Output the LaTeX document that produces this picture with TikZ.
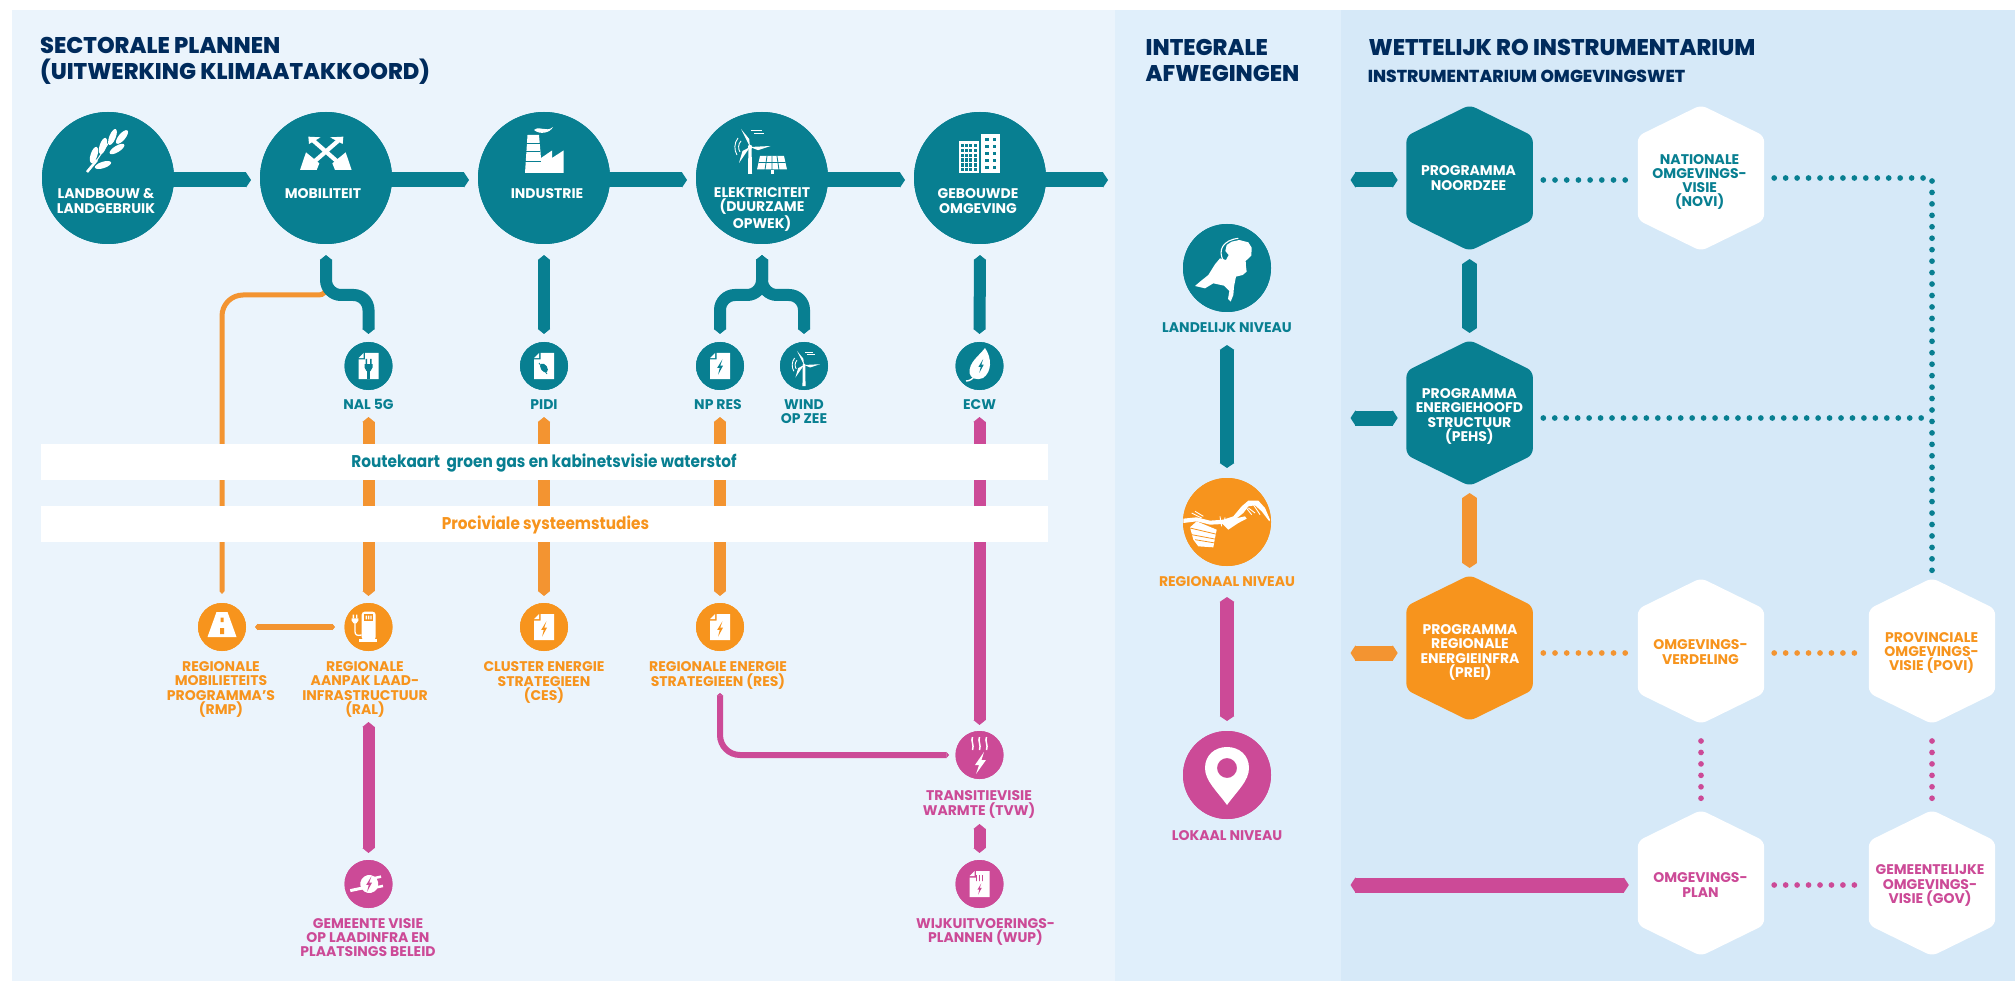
\documentclass[tikz,border=0pt]{standalone}
\usepackage{fontspec}
\setmainfont{Poppins}
\newfontfamily\banfont{Poppins}[FakeStretch=0.9]
\newfontfamily\ttlfont{Poppins ExtraBold}[FakeStretch=0.99]
\usetikzlibrary{arrows.meta,calc}
\definecolor{cteal}{HTML}{087F91}
\definecolor{corange}{HTML}{F7941D}
\definecolor{corbar}{HTML}{F39431}
\definecolor{cmag}{HTML}{CC4A97}
\definecolor{cnavy}{HTML}{002B5C}
\definecolor{pone}{HTML}{EBF4FC}
\definecolor{ptwo}{HTML}{E0EFFB}
\definecolor{pthree}{HTML}{D6E9F8}
\newcommand\T{\rule{0pt}{12pt}}
\newcommand\B{\rule[-3pt]{0pt}{3pt}}
\tikzset{
 bar/.style n args={2}{draw=#1,line width=#2,line cap=butt,arrows={{Triangle[length=5pt,width=#2]}-{Triangle[length=5pt,width=#2]}}},
 rbar/.style n args={2}{draw=#1,line width=#2,line cap=butt,arrows={-{Triangle[length=5pt,width=#2]}}},
 thinbar/.style n args={2}{draw=#1,line width=#2,line cap=butt,arrows={{Triangle[length=2.5pt,width=#2]}-{Triangle[length=2.5pt,width=#2]}}},
 dotl/.style={draw=#1,line width=5.7pt,line cap=round,dash pattern=on 0pt off 11.7pt},
 dotv/.style={draw=#1,line width=5.7pt,line cap=round,dash pattern=on 0pt off 11.45pt},
 disc/.style 2 args={circle,fill=#1,minimum size=#2,inner sep=0pt,outer sep=0pt},
 hexbox/.style={rectangle,minimum width=126.4pt,minimum height=146pt,inner sep=0pt,outer sep=0pt},
 lbl/.style={align=center,inner sep=0pt,text=#1,font=\fontsize{14}{14.2}\selectfont\bfseries},
 ttl/.style={align=left,anchor=west,inner sep=0pt,text=cnavy,font=\fontsize{22.7}{26}\selectfont\ttlfont},
 ban/.style={fill=white,minimum width=1007pt,minimum height=36pt,inner sep=0pt,outer sep=0pt},
 bant/.style={inner sep=0pt,text=#1,font=\fontsize{17}{17}\selectfont\banfont\bfseries},
}
\newcommand\hexa[4]{%
 \fill[#4,rounded corners=6pt,shift={(#2,#3)}] (0,-73)--(63.2,-42)--(63.2,42)--(0,73)--(-63.2,42)--(-63.2,-42)--cycle;
 \node[hexbox] (#1) at (#2,#3) {};}
\newcommand\boltic[4]{\fill[#4,shift={(#1,#2)},scale=#3] (2.5,-8)--(-3,1)--(-.3,1)--(-2,8)--(3.2,-1.5)--(.3,-1.5)--cycle;}
\newcommand\docic[2]{%
 \fill[white,shift={(#1,#2)}] (-3.5,-13)--(10,-13)--(10,13)--(-10,13)--(-10,-6.5)--(-3.5,-6.5)--cycle;
 \fill[white,shift={(#1,#2)}] (-10,-7.8)--(-4.8,-7.8)--(-4.8,-13)--cycle;}
\newcommand\lfic[5]{\fill[white,rotate around={#3:(#1,#2)}] (#1,#2) ellipse (#4pt and #5pt);}
\newcommand\turb[3]{%
 \begin{scope}[shift={(#1,#2)},scale=#3]
 \fill[white] (-1.6,1)--(1.6,1)--(2,27)--(-2,27)--cycle;
 \fill[white] (0,0)--(-9,-18)--(-.8,-8)--cycle;
 \fill[white] (0,0)--(20.6,-1)--(8,3.2)--cycle;
 \fill[white] (0,0)--(-11,16)--(-7.5,4)--cycle;
 \fill[white] (0,0) circle (2.2pt);
 \draw[white,line width=.9pt] (-12,-9) .. controls (-16,-4) and (-16,3) .. (-13,8);
 \draw[white,line width=.9pt] (-9,-6) .. controls (-12,-3) and (-12,2) .. (-10,5);
 \draw[white,line width=1pt] (1,-16)--(12,-16) (4,-13)--(14,-13);
 \end{scope}}
\begin{document}
\begin{tikzpicture}[x=1pt,y=-1pt]
\useasboundingbox (0,0) rectangle (2015,981);
\fill[white] (0,0) rectangle (2015,981);
\fill[pone] (12,10) rectangle (1115,981);
\fill[ptwo] (1115,10) rectangle (1341,981);
\fill[pthree] (1341,10) rectangle (2015,981);

% titles
\node[ttl] (t1) at (40,60.5) {SECTORALE PLANNEN\\(UITWERKING KLIMAATAKKOORD)};
\node[ttl] (t2) at (1145.5,60.5) {INTEGRALE\\AFWEGINGEN};
\node[ttl] (t3) at (1368.4,47) {WETTELIJK RO INSTRUMENTARIUM};
\node[ttl,font=\fontsize{17.3}{18}\selectfont\ttlfont] (t4) at (1367.6,76) {INSTRUMENTARIUM OMGEVINGSWET};

% nodes first, so connectors can refer to them
\node[disc={cteal}{132pt}] (lb) at (108,178) {};
\node[disc={cteal}{132pt}] (mob) at (326,178) {};
\node[disc={cteal}{132pt}] (ind) at (544,178) {};
\node[disc={cteal}{132pt}] (ele) at (762,178) {};
\node[disc={cteal}{132pt}] (geb) at (980,178) {};
\node[disc={cteal}{48pt}] (nal) at (368.5,366) {};
\node[disc={cteal}{48pt}] (pidi) at (544,366) {};
\node[disc={cteal}{48pt}] (npres) at (720,366) {};
\node[disc={cteal}{48pt}] (wind) at (804,366) {};
\node[disc={cteal}{48pt}] (ecw) at (979.5,366) {};
\node[disc={corange}{48pt}] (rmp) at (222,627) {};
\node[disc={corange}{48pt}] (ral) at (368.5,627) {};
\node[disc={corange}{48pt}] (ces) at (544,627) {};
\node[disc={corange}{48pt}] (res) at (720,627) {};
\node[disc={cmag}{48pt}] (tvw) at (979.5,755) {};
\node[disc={cmag}{48pt}] (wup) at (979.5,884) {};
\node[disc={cmag}{48pt}] (gem) at (368.5,884) {};
\node[disc={cteal}{88pt}] (lan) at (1227,268) {};
\node[disc={corange}{88pt}] (reg) at (1227,522) {};
\node[disc={cmag}{88pt}] (lok) at (1227,775) {};

% connectors top row
\draw[rbar={cteal}{15pt},shorten <=-2pt,shorten >=9pt] ([yshift=-2pt]lb.east) -- ([yshift=-2pt]mob.west);
\draw[rbar={cteal}{15pt},shorten <=-2pt,shorten >=9pt] ([yshift=-2pt]mob.east) -- ([yshift=-2pt]ind.west);
\draw[rbar={cteal}{15pt},shorten <=-2pt,shorten >=9pt] ([yshift=-2pt]ind.east) -- ([yshift=-2pt]ele.west);
\draw[rbar={cteal}{15pt},shorten <=-2pt,shorten >=9pt] ([yshift=-2pt]ele.east) -- ([yshift=-2pt]geb.west);
\coordinate (gebend) at (1108,180);
\draw[rbar={cteal}{15pt},shorten <=-2pt] ([yshift=-2pt]geb.east) -- (gebend);

% connectors sectors
\draw[draw=corbar,line width=5pt,line cap=butt,arrows={-{Triangle[length=3pt,width=5pt]}},rounded corners=21pt] ([yshift=-42pt]mob.south) [rounded corners=7pt] -- ++(0,9) [rounded corners=21pt] -| ([yshift=9pt]rmp.north);
\draw[bar={cteal}{12pt},rounded corners=15pt] ([yshift=-11pt]mob.south) -- ++(0,40) -| ([yshift=8pt]nal.north);
\draw[bar={cteal}{12pt}] ([yshift=-11pt]ind.south) -- ([yshift=8pt]pidi.north);
\draw[bar={cteal}{12pt},rounded corners=15pt] ([yshift=-11pt]ele.south) -- ++(0,40) -| ([yshift=8pt]npres.north);
\draw[bar={cteal}{12pt},rounded corners=15pt] ([yshift=-11pt]ele.south) -- ++(0,40) -| ([yshift=8pt]wind.north);
\draw[bar={cteal}{12pt}] ([yshift=-11pt]geb.south) -- ([yshift=8pt]ecw.north);
\draw[bar={corbar}{12pt},shorten <=27pt,shorten >=7pt] (nal.south) -- (ral.north);
\draw[bar={corbar}{12pt},shorten <=27pt,shorten >=7pt] (pidi.south) -- (ces.north);
\draw[bar={corbar}{12pt},shorten <=27pt,shorten >=7pt] (npres.south) -- (res.north);
\draw[bar={cmag}{12pt},shorten <=27pt,shorten >=6pt] (ecw.south) -- (tvw.north);
\draw[thinbar={corbar}{6pt},shorten <=9pt,shorten >=9.5pt] (rmp.east) -- (ral.west);
\draw[bar={cmag}{12pt},shorten <=71pt,shorten >=7pt] (ral.south) -- (gem.north);
\draw[bar={cmag}{12pt},shorten <=45pt,shorten >=7pt] (tvw.south) -- (wup.north);
\draw[thinbar={cmag}{6pt},rounded corners=20pt,shorten >=6.5pt] ([yshift=-42pt]res.south) |- (tvw.west);

% connectors levels
\draw[bar={cteal}{14.5pt},shorten <=33pt,shorten >=10pt] (lan.south) -- (reg.north);
\draw[bar={cmag}{14.5pt},shorten <=31pt,shorten >=10pt] (reg.south) -- (lok.north);

% banners
\node[ban] (b1) at (544.5,462) {};
\node[ban] (b2) at (544.5,524) {};
\node[bant=cteal] (b1t) at (544,463) {Routekaart\ \ groen gas en kabinetsvisie waterstof};
\node[bant=corange] (b2t) at (545.5,524.5) {Prociviale systeemstudies};

% circles on top
\foreach \n/\c/\s in {lb/cteal/132,mob/cteal/132,ind/cteal/132,ele/cteal/132,geb/cteal/132,nal/cteal/48,pidi/cteal/48,npres/cteal/48,wind/cteal/48,ecw/cteal/48,rmp/corange/48,ral/corange/48,ces/corange/48,res/corange/48,tvw/cmag/48,wup/cmag/48,gem/cmag/48,lan/cteal/88,reg/corange/88,lok/cmag/88}
 \fill[\c] (\n.center) circle ({\s/2*1pt});

% hexagons
\hexa{noord}{1469.6}{178}{cteal}
\hexa{novi}{1701}{178}{white}
\hexa{pehs}{1469.6}{413}{cteal}
\hexa{prei}{1469.6}{648}{corange}
\hexa{verd}{1701}{651}{white}
\hexa{povi}{1932}{651}{white}
\hexa{plan}{1701}{883}{white}
\hexa{gov}{1932}{883}{white}

% hexagon connectors
\coordinate (s1) at (1350.5,180);
\coordinate (s2) at (1350.5,418);
\coordinate (s3) at (1350.5,653);
\coordinate (s4) at (1350.5,885);
\draw[bar={cteal}{15pt},shorten >=8.7pt] (s1) -- ([yshift=-2pt]noord.west);
\draw[bar={cteal}{15pt},shorten >=8.7pt] (s2) -- ([yshift=-5pt]pehs.west);
\draw[bar={corbar}{15pt},shorten >=8.7pt] (s3) -- ([yshift=-5pt]prei.west);
\draw[bar={cmag}{15pt},shorten >=9pt] (s4) -- ([yshift=-2pt]plan.west);
\draw[bar={cteal}{14.5pt},shorten <=8pt,shorten >=7pt] (noord.south) -- (pehs.north);
\draw[bar={corbar}{14.5pt},shorten <=7pt,shorten >=7pt] (pehs.south) -- (prei.north);
% dotted
\coordinate (cn) at (povi.north |- novi.east);
\coordinate (pj) at (1923.5,418);
\draw[dotl=cteal,shorten <=10.5pt,shorten >=12.5pt] ([yshift=-2pt]noord.east) -- ([yshift=-2pt]novi.west);
\draw[dotv=cteal,shorten <=10pt,shorten >=7.5pt] (novi.east) -- (cn);
\draw[dotv=cteal,shorten <=3pt,shorten >=6.5pt] (cn) -- (povi.north);
\draw[dotv=cteal,shorten <=10.5pt] ([yshift=-5pt]pehs.east) -- (pj);
\draw[dotl=corbar,shorten <=10.5pt,shorten >=12.5pt] ([yshift=-5pt]prei.east) -- ([yshift=-2pt]verd.west);
\draw[dotv=corbar,shorten <=10pt,shorten >=14pt] ([yshift=-2pt]verd.east) -- ([yshift=-2pt]povi.west);
\draw[dotv=cmag,shorten <=17pt,shorten >=11.5pt] (verd.south) -- (plan.north);
\draw[dotv=cmag,shorten <=17pt,shorten >=11.5pt] (povi.south) -- (gov.north);
\draw[dotv=cmag,shorten <=10pt,shorten >=12.5pt] ([yshift=-2pt]plan.east) -- ([yshift=-2pt]gov.west);

% labels in circles
\node[lbl=white] (lblb) at (106,201.5) {\T LANDBOUW \&\\LANDGEBRUIK\B};
\node[lbl=white] (lbmob) at (323,194.5) {\T MOBILITEIT\B};
\node[lbl=white] (lbind) at (547,194.5) {\T INDUSTRIE\B};
\node[lbl=white] (lbele) at (762,208.5) {\T ELEKTRICITEIT\\(DUURZAME\\OPWEK)\B};
\node[lbl=white] (lbgeb) at (978,201.5) {\T GEBOUWDE\\OMGEVING\B};
% labels small
\node[lbl=cteal] (lnal) at (368.5,404.5) {\T NAL 5G\B};
\node[lbl=cteal] (lpidi) at (544,404.5) {\T PIDI\B};
\node[lbl=cteal] (lnp) at (718,404.5) {\T NP RES\B};
\node[lbl=cteal] (lwind) at (804,412) {\T WIND\\OP ZEE\B};
\node[lbl=cteal] (lecw) at (979.5,404.5) {\T ECW\B};
\node[lbl=corange] (lrmp) at (221,688.5) {\T REGIONALE\\MOBILIETEITS\\PROGRAMMA'S\\(RMP)\B};
\node[lbl=corange] (lral) at (365,688.5) {\T REGIONALE\\AANPAK LAAD-\\INFRASTRUCTUUR\\(RAL)\B};
\node[lbl=corange] (lces) at (544,681.5) {\T CLUSTER ENERGIE\\STRATEGIEEN\\(CES)\B};
\node[lbl=corange] (lres) at (718,674.5) {\T REGIONALE ENERGIE\\STRATEGIEEN (RES)\B};
\node[lbl=cmag] (ltvw) at (979,803.5) {\T TRANSITIEVISIE\\WARMTE (TVW)\B};
\node[lbl=cmag] (lwup) at (985.5,931) {\T WIJKUITVOERINGS-\\PLANNEN (WUP)\B};
\node[lbl=cmag] (lgem) at (368,938) {\T GEMEENTE VISIE\\OP LAADINFRA EN\\PLAATSINGS BELEID\B};
\node[lbl=cteal] (llan) at (1227,328.5) {\T LANDELIJK NIVEAU\B};
\node[lbl=corange] (lreg) at (1227,581.5) {\T REGIONAAL NIVEAU\B};
\node[lbl=cmag] (llok) at (1227,835.5) {\T LOKAAL NIVEAU\B};
% labels hex
\node[lbl=white] (lnoord) at (1468.5,178.5) {\T PROGRAMMA\\NOORDZEE\B};
\node[lbl=white] (lpehs) at (1469.4,415.5) {\T PROGRAMMA\\ENERGIEHOOFD\\STRUCTUUR\\(PEHS)\B};
\node[lbl=white] (lprei) at (1470,651.5) {\T PROGRAMMA\\REGIONALE\\ENERGIEINFRA\\(PREI)\B};
\node[lbl=cteal] (lnovi) at (1699.6,181) {\T NATIONALE\\OMGEVINGS-\\VISIE\\(NOVI)\B};
\node[lbl=corange] (lverd) at (1700.5,652.5) {\T OMGEVINGS-\\VERDELING\B};
\node[lbl=corange] (lpovi) at (1931.6,652) {\T PROVINCIALE\\OMGEVINGS-\\VISIE (POVI)\B};
\node[lbl=cmag] (lplan) at (1700.5,885.5) {\T OMGEVINGS-\\PLAN\B};
\node[lbl=cmag] (lgov) at (1930,884.5) {\T GEMEENTELIJKE\\OMGEVINGS-\\VISIE (GOV)\B};

% ---- icons ----
% wheat
\draw[white,line width=2.6pt] (87,172)--(97,160);
\draw[white,line width=1pt] (97,160)--(116,132);
\lfic{94}{155}{-18}{3.4}{8.5}
\lfic{103}{146}{-18}{3.4}{8.5}
\lfic{112.5}{137}{-22}{3.2}{8.5}
\lfic{122}{137}{-40}{3.4}{8.5}
\lfic{117}{149}{-58}{3.2}{8.5}
\lfic{103}{165}{-72}{3.2}{8.5}
% mobility arrows
\begin{scope}[shift={(280,120)},scale=.3333]
 \draw[white,line width=4.2pt] (100,62)--(178,130) (175,62)--(97,130);
 \fill[white] (85,50)--(122,52)--(87,72)--cycle;
 \fill[white] (190,50)--(150,52)--(188,72)--cycle;
 \fill[white] (60,150)--(78,97)--(118,130)--(110,150)--cycle;
 \fill[white] (215,150)--(197,97)--(157,130)--(165,150)--cycle;
\end{scope}
% factory
\fill[white] (525,173)--(527.5,135)--(539,135)--(541,158)--(552,150.5)--(552,158)--(563.5,150.5)--(563.5,173)--cycle;
\draw[cteal,line width=.9pt] (526,143)--(540,143) (526,151)--(540,151) (525,161)--(541,161);
\fill[white] (534,130) .. controls (540,125) and (546,133) .. (553,127) .. controls (550,133) and (540,135) .. (534,130) -- cycle;
% turbine + solar
\turb{750}{147}{1}
\begin{scope}
 \fill[white] (760,156)--(784,156)--(787,169.5)--(757,169.5)--cycle;
 \draw[cteal,line width=.8pt] (758.5,162.5)--(785.5,162.5) (767,156)--(765,170) (772,156)--(772,170) (777,156)--(779,170);
 \fill[white] (770.5,170.5) rectangle (773.5,174.5);
\end{scope}
% buildings
\fill[white] (958.5,141.5) rectangle (978.5,173.5);
\fill[white] (980.5,134) rectangle (1000,173.5);
\foreach \i in {0,1,2,3} \foreach \j in {0,1,2,3,4,5} \fill[cteal] ({960.5+\i*4.4},{144+\j*4.8}) rectangle ++(3,3.4);
\foreach \i in {0,1} \foreach \j in {0,1,2,3,4} \fill[cteal] ({985+\i*7.5},{138+\j*7}) rectangle ++(3.5,3.5);
% doc icons
\docic{368.5}{366}
\fill[cteal] (367.3,370) rectangle (369.7,379);
\fill[cteal] (364.5,364)--(372.5,364)--(372.5,367.5)--(370.5,371)--(366.5,371)--(364.5,367.5)--cycle;
\fill[cteal] (365.5,359) rectangle (367,364) (370,359) rectangle (371.5,364);
\docic{544}{366}
\fill[cteal,rotate around={35:(544,368)}] (544,368) ellipse (3.2pt and 5pt);
\draw[cteal,line width=.8pt] (539,363)--(547,374);
\docic{720}{366}
\boltic{720}{367}{.95}{cteal}
\turb{804}{365}{.78}
% ecw leaf
\fill[white] (985,348) .. controls (978,357) and (969,362) .. (969.5,373) .. controls (970,378) and (977,381) .. (983,378) .. controls (992,372) and (992,358) .. (985,348) -- cycle;
\draw[white,line width=1.4pt] (966,381) .. controls (970,381) and (972,379) .. (975,376);
\boltic{981}{366}{.85}{cteal}
% road
\fill[white] (216.5,612)--(227.5,612)--(236.5,637)--(207.5,637)--cycle;
\fill[corange] (220.5,617.5) rectangle (223.5,622) (220,628) rectangle (224,634);
% pump
\begin{scope}[shift={(340,600)},scale=.3333]
 \fill[white,rounded corners=3pt] (65,120)--(65,35)--(107,35)--(107,120)--cycle;
 \fill[white] (58,118) rectangle (112,126);
 \fill[corange] (72,43) rectangle (100,62);
 \fill[white] (77,47) rectangle (81,58) (84,47) rectangle (88,58) (91,47) rectangle (95,58);
 \fill[white] (35,55)--(55,55)--(55,62)--(49,70)--(41,70)--(35,62)--cycle;
 \fill[white] (38,44) rectangle (42,55) (48,44) rectangle (52,55);
 \draw[white,line width=1.3pt] (45,68)--(45,95) .. controls (45,105) and (52,108) .. (65,105);
\end{scope}
% gem plug
\begin{scope}[shift={(369.3,884)},rotate=12]
 \fill[white] (0,0) circle (9pt);
 \fill[white] (-20,1) rectangle (-6,4);
 \fill[white] (6,-6) rectangle (13,-3.5);
 \fill[white] (6,3.5) rectangle (13,6);
\end{scope}
\boltic{369}{884}{.95}{cmag}
% ces, res docs
\docic{544}{627}
\boltic{544}{629}{.95}{corange}
\docic{720}{627}
\boltic{720}{629}{.95}{corange}
% tvw
\foreach \dx in {-7,0,7} \draw[white,line width=1.5pt] ({979.5+\dx},737) .. controls ({977.5+\dx},741) and ({981.5+\dx},745) .. ({979.5+\dx},750);
\fill[white] (984,752)--(975,765)--(979,765)--(976,774)--(986,760)--(981.5,760)--cycle;
% wup
\docic{979.5}{884}
\foreach \dx in {-3,0,3} \draw[cmag,line width=.7pt] ({979.5+\dx},875) .. controls ({978.7+\dx},877) and ({980.3+\dx},879) .. ({979.5+\dx},881);
\boltic{979.5}{889}{.7}{cmag}
% NL map
\begin{scope}[shift={(1180,225)},scale=.3333]
 \fill[white] (178,45)--(205,52)--(215,68)--(214,92)--(197,108)--(198,125)--(200,140)--(188,150)--(168,155)--(162,185)--(160,210)--(152,230)--(144,222)--(148,198)--(132,182)--(100,175)--(75,190)--(45,183)--(60,170)--(85,150)--(105,118)--(120,100)--(138,105)--(146,90)--(136,78)--(140,60)--(155,50)--cycle;
 \draw[white,line width=1.1pt] (175,40) .. controls (130,45) and (112,75) .. (130,107);
\end{scope}
% regional map
\begin{scope}[shift={(1180,478)},scale=.3333]
 \fill[white] (10,122)--(50,118)--(90,128)--(130,125)--(160,115)--(185,85)--(205,68)--(235,68)--(255,90)--(270,125)--(268,130)--(245,100)--(225,82)--(205,85)--(190,105)--(165,125)--(130,138)--(90,140)--(50,130)--(10,135)--cycle;
 \fill[white] (30,148)--(50,130)--(110,155)--(105,180)--(100,208)--(55,205)--(40,185)--cycle;
 \draw[corange,line width=.8pt] (30,150)--(115,170) (35,170)--(115,185) (45,185)--(105,195);
 \fill[white] (125,135)--(150,125)--(195,115)--(200,122)--(175,135)--(145,155)--cycle;
 \draw[white,line width=.9pt] (35,105)--(65,120) (45,100)--(70,115) (120,115)--(125,145) (135,118)--(132,140) (195,85)--(215,110) (205,90)--(225,105) (220,80)--(240,110);
\end{scope}
% pin
\begin{scope}[shift={(1227,775)}]
 \fill[white,even odd rule] (0,30) .. controls (-10,16) and (-22,6) .. (-22,-7) .. controls (-22,-20) and (-12,-28) .. (0,-28) .. controls (12,-28) and (22,-20) .. (22,-7) .. controls (22,6) and (10,16) .. (0,30) -- cycle (0,-7) circle (10pt);
\end{scope}
\end{tikzpicture}
\end{document}
